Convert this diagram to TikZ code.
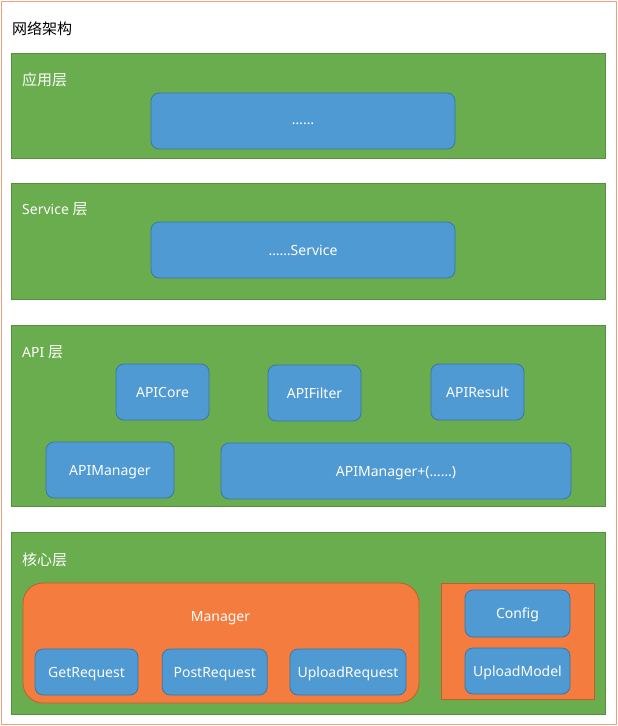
\documentclass[tikz,border=0pt]{standalone}
\usepackage{fontspec}
\setmainfont{Noto Sans}
\newfontfamily\cjk{Noto Sans CJK SC}
\definecolor{grn}{RGB}{106,173,79}
\definecolor{grnline}{RGB}{88,142,64}
\definecolor{blu}{RGB}{79,154,211}
\definecolor{bluline}{RGB}{58,118,168}
\definecolor{org}{RGB}{244,124,62}
\definecolor{orgline}{RGB}{196,94,40}
\definecolor{outer}{RGB}{240,160,125}
\tikzset{
  frame/.style={draw=outer, line width=1pt, inner sep=0pt},
  lay/.style={draw=grnline, fill=grn, line width=0.8pt, inner sep=0pt},
  bbox/.style={draw=bluline, fill=blu, line width=0.8pt, rounded corners=8pt, inner sep=0pt,
    text=white, font=\fontsize{14}{16}\selectfont, text height=10pt, text depth=0pt},
  mgr/.style={draw=orgline, fill=org, line width=0.8pt, rounded corners=20pt, inner sep=0pt},
  obox/.style={draw=orgline, fill=org, line width=0.8pt, inner sep=0pt},
  lbl/.style={anchor=base west, inner sep=0pt, text=white, font=\fontsize{14}{16}\selectfont},
}
\newcommand{\zh}[1]{{\cjk\fontsize{15}{17}\selectfont #1}}
\begin{document}
\begin{tikzpicture}[x=1pt,y=-1pt]
\useasboundingbox (0,0) rectangle (618,726);
\node[frame, minimum width=615pt, minimum height=723pt] (frame) at (308.5,362.5) {};
\node[lbl, text=black] (title) at (12,34) {\zh{网络架构}};

% layer 1
\node[lay, minimum width=594pt, minimum height=105pt] (L1) at (308,105.5) {};
\node[lbl] (L1t) at (22,85) {\zh{应用层}};
\node[bbox, minimum width=304pt, minimum height=56pt, text height=6pt] (b1) at (303,121) {……};

% layer 2
\node[lay, minimum width=594pt, minimum height=116pt] (L2) at (308,241) {};
\node[lbl] (L2t) at (22,214.5) {Service \zh{层}};
\node[bbox, minimum width=304pt, minimum height=56pt] (b2) at (303,250) {……Service};

% layer 3
\node[lay, minimum width=594pt, minimum height=181pt] (L3) at (308,415.5) {};
\node[lbl] (L3t) at (22,357.5) {API \zh{层}};
\node[bbox, minimum width=93pt, minimum height=56pt] (core) at (162.5,392) {APICore};
\node[bbox, minimum width=93pt, minimum height=56pt] (filter) at (314.5,393) {APIFilter};
\node[bbox, minimum width=93pt, minimum height=56pt] (result) at (477.5,392) {APIResult};
\node[bbox, minimum width=128pt, minimum height=56pt] (amgr) at (110,470) {APIManager};
\node[bbox, minimum width=350pt, minimum height=56pt] (amgrp) at (396,471) {APIManager+(……)};

% layer 4
\node[lay, minimum width=594pt, minimum height=182pt] (L4) at (308,623) {};
\node[lbl] (L4t) at (22,565) {\zh{核心层}};
\node[mgr, minimum width=396pt, minimum height=120pt] (mgr) at (221,643) {};
\node[lbl, anchor=base] (mgrt) at (220.5,621) {Manager};
\node[bbox, minimum width=103pt, minimum height=46pt] (get) at (86.5,672) {GetRequest};
\node[bbox, minimum width=105pt, minimum height=46pt] (post) at (214.7,672) {PostRequest};
\node[bbox, minimum width=116pt, minimum height=46pt] (upreq) at (348,672) {UploadRequest};
\node[obox, minimum width=153pt, minimum height=116pt] (cfgbox) at (517.5,641) {};
\node[bbox, minimum width=105pt, minimum height=47pt] (cfg) at (517.5,613.5) {Config};
\node[bbox, minimum width=105pt, minimum height=46pt] (upm) at (517.5,671) {UploadModel};
\end{tikzpicture}
\end{document}
